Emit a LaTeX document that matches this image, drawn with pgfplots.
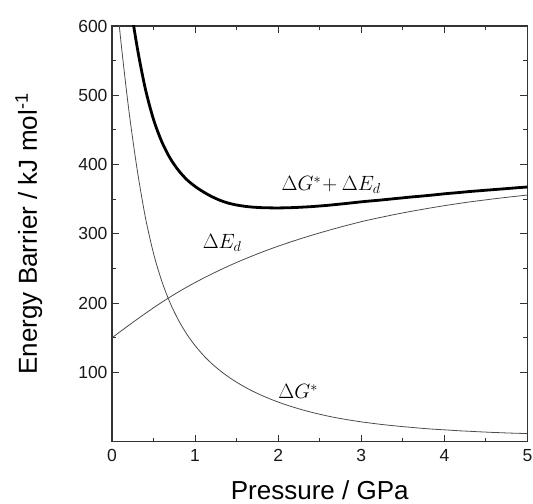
\documentclass[border=0pt]{standalone}
\usepackage{pgfplots}
\usepackage{pgfplotstable}
\pgfplotsset{compat=1.18}
\usepackage{fontspec}
\setmainfont{Liberation Sans}

\pgfplotstableread{
x G E S
0.0 710 150 860
0.1 586 158.95 745
0.2 481 167.8 649
0.3 395 176.5 571.5
0.4 325 185.0 510
0.5 271.6 193.3 465
0.6 231.4 201.3 432.7
0.7 200.1 208.9 409
0.8 175.4 216.2 391.6
0.9 155.2 223.1 378.3
1.0 138.7 229.7 368.4
1.1 124.7 236.0 360.5
1.2 112.8 242.0 353.8
1.3 102.6 247.8 348.4
1.4 93.7 253.4 344.3
1.5 85.8 258.7 341.6
1.6 78.8 263.8 339.7
1.7 72.5 268.7 338.5
1.8 66.9 273.4 337.8
1.9 61.8 277.9 337.5
2.0 57.2 282.2 337.4
2.1 53.0 286.3 337.6
2.2 49.2 290.3 338.0
2.3 45.7 294.1 338.6
2.4 42.5 297.8 339.3
2.5 39.6 301.4 340.2
2.6 36.9 304.8 341.2
2.7 34.5 308.2 342.4
2.8 32.4 311.4 343.6
2.9 30.4 314.5 344.9
3.0 28.6 317.6 346.2
3.1 27.05 320.3 347.35
3.2 25.5 322.9 348.4
3.3 24.15 325.4 349.55
3.4 22.9 327.9 350.8
3.5 21.75 330.2 351.95
3.6 20.7 332.5 353.2
3.7 19.6 334.6 354.2
3.8 18.65 336.7 355.35
3.9 17.8 338.7 356.5
4.0 17.1 340.7 357.8
4.1 16.35 342.5 358.85
4.2 15.6 344.3 359.9
4.3 15.05 346.0 361.05
4.4 14.4 347.6 362.0
4.5 13.85 349.1 362.95
4.6 13.3 350.6 363.9
4.7 12.85 352.0 364.85
4.8 12.4 353.4 365.8
4.9 12.05 354.7 366.75
5.0 11.6 356.0 367.6
}\barrier

\begin{document}
\begin{tikzpicture}
\begin{axis}[
  name=ax,
  scale only axis,
  width=415.5bp, height=415.7bp,
  xmin=0, xmax=5, ymin=0, ymax=600,
  xtick={0,1,2,3,4,5},
  ytick={100,200,300,400,500,600},
  minor x tick num=1, minor y tick num=1,
  tick align=inside,
  major tick length=7bp, minor tick length=4bp,
  axis line style={line width=1.2bp, black!80},
  every tick/.style={line width=1.1bp, black!80},
  /pgf/number format/assume math mode=true,
  tick label style={font=\fontsize{17.5bp}{20bp}\selectfont, text=black!90},
  xticklabel style={yshift=-4bp},
  yticklabel style={xshift=-1bp},
  label style={font=\fontsize{26bp}{31bp}\selectfont},
  xlabel={Pressure / GPa},
  ylabel={Energy Barrier / kJ mol\textsuperscript{-1}},
  xlabel style={at={(axis description cs:0.5,-0.140)}, anchor=base},
  ylabel style={at={(axis description cs:-0.181,0.5)}, anchor=base},
  clip=true,
]
\addplot[black!70, line width=0.8bp, smooth] table[x=x, y=G] {\barrier};
\addplot[black!70, line width=0.8bp, smooth] table[x=x, y=E] {\barrier};
\addplot[black, line width=2.8bp, smooth] table[x=x, y=S] {\barrier};
\node[anchor=base west, font=\fontsize{20bp}{24bp}\selectfont, inner sep=0pt] at (axis cs:2.04,362) {$\Delta G^{*}\!+\Delta E_{d}$};
\node[anchor=base west, font=\fontsize{20bp}{24bp}\selectfont, inner sep=0pt] at (axis cs:1.09,279) {$\Delta E_{d}$};
\node[anchor=base west, font=\fontsize{20bp}{24bp}\selectfont, inner sep=0pt] at (axis cs:2.00,62) {$\Delta G^{*}$};
\end{axis}
\pgfresetboundingbox
\path (ax.south west) ++(-112bp,-62.3bp) coordinate (bl);
\path (ax.north east) ++(5.5bp,26bp) coordinate (tr);
\path[use as bounding box] (bl) rectangle (tr);
\end{tikzpicture}
\end{document}
